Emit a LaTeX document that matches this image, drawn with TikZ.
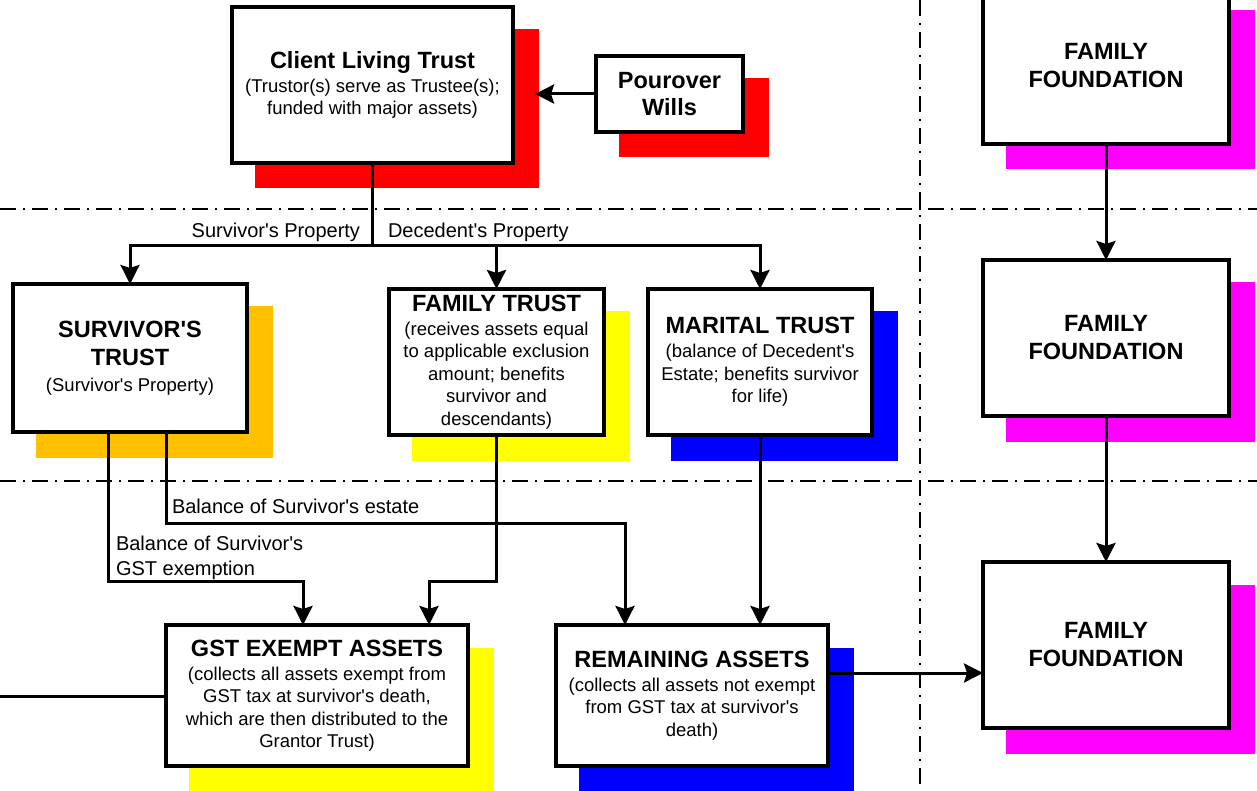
\documentclass[tikz,border=0pt]{standalone}
\usepackage{fontspec}
\setmainfont{Liberation Sans}
\usetikzlibrary{arrows.meta,calc,backgrounds}
\definecolor{sred}{RGB}{255,0,0}
\definecolor{sorange}{RGB}{255,192,0}
\definecolor{syellow}{RGB}{255,255,0}
\definecolor{sblue}{RGB}{0,0,255}
\definecolor{smagenta}{RGB}{255,0,255}
\newcommand\tf{\fontsize{23.5}{28}\selectfont\bfseries}
\newcommand\q{\textquotesingle}
\newcommand\shadowof[2]{\fill[#2] ($(#1.north west)+(22.5,22.5)$) rectangle ($(#1.south east)+(25.5,25.5)$);}
\begin{document}
\begin{tikzpicture}[x=1pt,y=-1pt,
 box/.style={draw,line width=3.4pt,fill=white,inner sep=0pt,outer sep=0pt,align=center,font=\fontsize{18.5}{22.5}\selectfont},
 tbox/.style={box,font=\tf},
 conn/.style={line width=3pt},
 arr/.style={conn,-{Stealth[length=19pt,width=19pt,inset=3pt]}},
 dd/.style={line width=1.4pt,dash pattern=on 16pt off 7pt on 2pt off 7pt},
 lbl/.style={font=\fontsize{20}{25}\selectfont,inner sep=0pt,outer sep=0pt}
]
\clip (0,0) rectangle (1257,791);
\useasboundingbox (0,0) rectangle (1257,791);

% boxes
\node[box,minimum width=281pt,minimum height=156pt] (clt) at (372.5,85)
  {{\tf Client Living Trust}\\[1.5pt](Trustor(s) serve as Trustee(s);\\funded with major assets)};
\node[tbox,minimum width=147pt,minimum height=76pt,font=\fontsize{23.5}{27}\selectfont\bfseries] (pw) at (669.5,94)
  {Pourover\\Wills};
\node[tbox,minimum width=246pt,minimum height=156pt] (ff1) at (1106,66) {FAMILY\\FOUNDATION};
\node[tbox,minimum width=246pt,minimum height=156pt] (ff2) at (1106,338) {FAMILY\\FOUNDATION};
\node[tbox,minimum width=246pt,minimum height=166pt] (ff3) at (1106,645) {FAMILY\\FOUNDATION};
\node[box,minimum width=234pt,minimum height=148pt] (st) at (130,358)
  {{\tf SURVIVOR\q S}\\[5pt]{\tf TRUST}\\[3.5pt](Survivor\q s Property)};
\node[box,minimum width=215pt,minimum height=146pt] (ft) at (496.5,362)
  {{\tf FAMILY TRUST}\\[1.5pt](receives assets equal\\to applicable exclusion\\amount; benefits\\survivor and\\descendants)};
\node[box,minimum width=224pt,minimum height=146pt] (mt) at (760,362)
  {{\tf MARITAL TRUST}\\[1.5pt](balance of Decedent\q s\\Estate; benefits survivor\\for life)};
\node[box,minimum width=302pt,minimum height=141pt] (gst) at (317,695.5)
  {{\tf GST EXEMPT ASSETS}\\[1.5pt](collects all assets exempt from\\GST tax at survivor\q s death,\\which are then distributed to the\\Grantor Trust)};
\node[box,minimum width=272pt,minimum height=141pt] (ra) at (692,695.5)
  {{\tf REMAINING ASSETS}\\[1.5pt](collects all assets not exempt\\from GST tax at survivor\q s\\death)};

% background: dash-dot guides and shadows
\begin{scope}[on background layer]
  \draw[dd] (0,209) -- (1257,209);
  \draw[dd] (0,481) -- (1257,481);
  \draw[dd] (920,0) -- (920,791);
  \shadowof{clt}{sred}
  \shadowof{pw}{sred}
  \shadowof{ff1}{smagenta}
  \shadowof{ff2}{smagenta}
  \shadowof{ff3}{smagenta}
  \shadowof{st}{sorange}
  \shadowof{ft}{syellow}
  \shadowof{mt}{sblue}
  \shadowof{gst}{syellow}
  \shadowof{ra}{sblue}
\end{scope}

% labels
\node[lbl,anchor=base east] (lsp) at (360,238) {Survivor\q s Property};
\node[lbl,anchor=base west] (ldp) at (388,238) {Decedent\q s Property};
\node[lbl,anchor=base west] (lbe) at (172,513) {Balance of Survivor\q s estate};
\node[lbl,anchor=north west,align=left] (lbg) at (116,536) {Balance of Survivor\q s\\GST exemption};

% connectors
\coordinate (pwend) at ($(clt.east |- pw.west)+(22,0)$);
\draw[arr] (pw.west) -- (pwend);
\coordinate (J) at (372.5,246);
\draw[conn] (clt.south) -- (J);
\draw[arr] (J) -| (st.north);
\draw[arr] (J) -| (ft.north);
\draw[arr] (J) -| (mt.north);

\coordinate (sl) at (108,432);
\coordinate (sr) at (166,432);
\coordinate (g1) at (303,581);
\coordinate (g2) at (429,581);
\coordinate (r1) at (625,523);
\draw[arr] (sl |- st.south) |- (g1) -- (g1 |- gst.north);
\draw[arr] (ft.south) |- (g2) -- (g2 |- gst.north);
\draw[arr] (sr |- st.south) |- (r1) -- (r1 |- ra.north);
\draw[arr] (mt.south) -- (mt.south |- ra.north);

\coordinate (r2) at (828,673);
\draw[arr] (r2 -| ra.east) -- (r2 -| ff3.west);
\coordinate (gl) at (0,696);
\draw[conn] (gl) -- (gl -| gst.west);

\draw[arr] (ff1.south) -- (ff2.north);
\draw[arr] (ff2.south) -- (ff3.north);
\end{tikzpicture}
\end{document}
